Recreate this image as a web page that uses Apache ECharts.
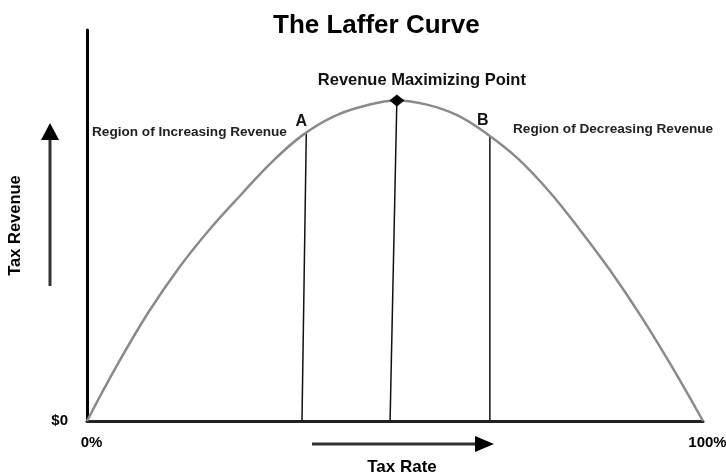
<!DOCTYPE html>
<html>
<head>
<meta charset="utf-8">
<script src="https://cdn.jsdelivr.net/npm/echarts@6/dist/echarts.min.js"></script>
<style>html,body{margin:0;padding:0;background:#fff}#c{width:726px;height:474px}</style>
</head>
<body>
<div id="c"></div>
<script>
// Tax rate (%) and tax revenue (index, peak = 100)
const taxRate = [0, 5, 10, 15, 20, 25, 30, 35, 40, 45, 50.3, 55, 60, 65, 70, 75, 80, 85, 90, 95, 100];
const revenue = [0, 17.8, 34.0, 48.0, 60.0, 70.6, 80.8, 89.2, 95.0, 98.3, 100, 98.8, 95.5, 89.5, 81.8, 71.7, 59.7, 46.8, 32.5, 16.8, 0];
// Guide lines: [top point, bottom point]
const lineA = [[35.6, 89.8], [34.9, 0]];
const lineMax = [[50.3, 100], [49.2, 0]];
const lineB = [[65.4, 88.9], [65.4, 0]];
const pointLabels = ['A', 'Revenue Maximizing Point', 'B'];
const xTickLabels = {0: '0%', 100: '100%'};
const yTickLabels = {0: '$0'};

const FONT = 'Liberation Sans, Arial, sans-serif';
const chart = echarts.init(document.getElementById('c'), null, {renderer: 'canvas'});
const curve = taxRate.map((x, i) => [x, revenue[i]]);
const guide = (d) => ({
  type: 'line', data: d, symbol: 'none', silent: true, z: 2,
  lineStyle: {color: '#111', width: 1.5}
});

chart.setOption({
  animation: false,
  backgroundColor: '#fff',
  title: {
    text: 'The Laffer Curve', left: 268, top: 8,
    textStyle: {fontFamily: FONT, fontSize: 26, fontWeight: 'bold', color: '#000'}
  },
  grid: {left: 87, right: 23, top: 30, bottom: 53, outerBoundsMode: 'none', containLabel: false},
  xAxis: {
    type: 'value', min: 0, max: 100, interval: 100,
    axisLine: {lineStyle: {color: '#222', width: 3}},
    axisTick: {show: false}, splitLine: {show: false},
    axisLabel: {
      formatter: v => xTickLabels[v] || '', margin: 14, padding: [0, 0, 0, 9],
      fontFamily: FONT, fontSize: 15, fontWeight: 'bold', color: '#000'
    },
    name: 'Tax Rate', nameLocation: 'middle', nameGap: 38,
    nameTextStyle: {fontFamily: FONT, fontSize: 17, fontWeight: 'bold', color: '#000', padding: [0, 0, 0, 14]}
  },
  yAxis: {
    type: 'value', min: 0, max: 122, interval: 61,
    axisLine: {show: true, lineStyle: {color: '#000', width: 3}},
    axisTick: {show: false}, splitLine: {show: false},
    axisLabel: {
      formatter: v => yTickLabels[v] || '', margin: 19,
      fontFamily: FONT, fontSize: 15, fontWeight: 'bold', color: '#000'
    },
    name: 'Tax Revenue', nameLocation: 'middle', nameGap: 63, nameRotate: 90,
    nameTextStyle: {fontFamily: FONT, fontSize: 16.5, fontWeight: 'bold', color: '#000'}
  },
  series: [
    {
      type: 'line', data: curve, smooth: 0.4, symbol: 'none', z: 3,
      lineStyle: {color: '#8a8a8a', width: 2.5}
    },
    guide(lineA), guide(lineMax), guide(lineB),
    {
      type: 'scatter', z: 5,
      data: [
        {value: lineA[0], symbolSize: 0, label: {offset: [-5, 0], distance: 4}},
        {value: lineMax[0], symbol: 'diamond', symbolSize: [15, 12], label: {offset: [25, 0], distance: 6, fontSize: 16.5}},
        {value: lineB[0], symbolSize: 0, label: {offset: [-7, 0], distance: 7}}
      ],
      itemStyle: {color: '#000', opacity: 1},
      label: {
        show: true, position: 'top',
        formatter: p => pointLabels[p.dataIndex],
        fontFamily: FONT, fontSize: 16, fontWeight: 'bold', color: '#111'
      }
    }
  ],
  graphic: [
    {type: 'text', left: 92, top: 125, style: {text: 'Region of Increasing Revenue', font: 'bold 13.6px ' + FONT, fill: '#222'}},
    {type: 'text', left: 513, top: 122, style: {text: 'Region of Decreasing Revenue', font: 'bold 13.6px ' + FONT, fill: '#222'}},
    // vertical arrow (tax revenue)
    {type: 'line', shape: {x1: 50, y1: 286, x2: 50, y2: 138}, style: {stroke: '#333', lineWidth: 3}},
    {type: 'polygon', shape: {points: [[50, 123], [41, 140], [59, 140]]}, style: {fill: '#000'}},
    // horizontal arrow (tax rate)
    {type: 'line', shape: {x1: 312, y1: 444, x2: 478, y2: 444}, style: {stroke: '#333', lineWidth: 3}},
    {type: 'polygon', shape: {points: [[494, 444], [475, 436], [475, 452]]}, style: {fill: '#000'}}
  ]
});
</script>
</body>
</html>
